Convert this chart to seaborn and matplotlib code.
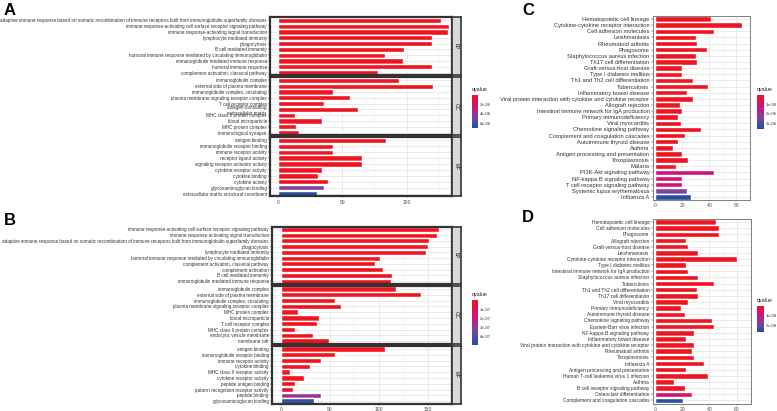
import numpy as np
import pandas as pd
import matplotlib
matplotlib.use('Agg')
import matplotlib.pyplot as plt
import seaborn as sns
from matplotlib.colors import LinearSegmentedColormap, Normalize
from matplotlib.cm import ScalarMappable

W, H = 777, 411

# ---------------- A: GO enrichment ----------------
a_bp_terms = ["adaptive immune response based on somatic recombination of immune receptors built from immunoglobulin superfamily domains",
              "immune response-activating cell surface receptor signaling pathway",
              "immune response-activating signal transduction",
              "lymphocyte mediated immunity",
              "phagocytosis",
              "B cell mediated immunity",
              "humoral immune response mediated by circulating immunoglobulin",
              "immunoglobulin mediated immune response",
              "humoral immune response",
              "complement activation, classical pathway"]
a_bp_count = [127, 133, 132, 120, 120, 98, 83, 97, 120, 78]
a_bp_q = [1e-40, 1e-38, 1e-37, 1e-33, 1e-32, 1e-30, 1e-29, 1e-28, 1e-27, 1e-26]

a_cc_terms = ["immunoglobulin complex", "external side of plasma membrane",
              "immunoglobulin complex, circulating", "plasma membrane signaling receptor complex",
              "T cell receptor complex", "collagen-containing\nextracellular matrix",
              "MHC class II protein complex", "blood microparticle",
              "MHC protein complex", "immunological synapse"]
a_cc_count = [94, 121, 43, 56, 36, 62, 13, 34, 14, 16]
a_cc_q = [1e-30, 1e-29, 1e-25, 1e-20, 1e-15, 1e-12, 1e-11, 1e-10, 1e-10, 1e-09]

a_mf_terms = ["antigen binding", "immunoglobulin receptor binding", "immune receptor activity",
              "receptor ligand activity", "signaling receptor activator activity",
              "cytokine receptor activity", "cytokine binding", "cytokine activity",
              "glycosaminoglycan binding", "extracellular matrix structural constituent"]
a_mf_count = [84, 43, 43, 65, 65, 34, 31, 39, 36, 30]
a_mf_q = [1e-30, 1e-25, 1e-20, 1e-15, 1e-14, 1e-12, 1e-10, 1e-09, 4.6e-06, 6.8e-06]

# ---------------- B: GO enrichment ----------------
b_bp_terms = ["immune response-activating cell surface receptor signaling pathway",
              "immune response-activating signal transduction",
              "adaptive immune response based on somatic recombination of immune receptors built from immunoglobulin superfamily domains",
              "phagocytosis", "lymphocyte mediated immunity",
              "humoral immune response mediated by circulating immunoglobulin",
              "complement activation, classical pathway", "complement activation",
              "B cell mediated immunity", "immunoglobulin mediated immune response"]
b_bp_count = [162, 160, 151, 150, 148, 101, 96, 104, 114, 113]
b_bp_q = [1e-45, 1e-44, 1e-43, 1e-40, 1e-38, 1e-33, 1e-31, 1e-30, 1e-30, 1e-29]

b_cc_terms = ["immunoglobulin complex", "external side of plasma membrane",
              "immunoglobulin complex, circulating", "plasma membrane signaling receptor complex",
              "MHC protein complex", "blood microparticle", "T cell receptor complex",
              "MHC class II protein complex", "endocytic vesicle membrane", "membrane raft"]
b_cc_count = [118, 143, 55, 62, 18, 39, 37, 14, 33, 49]
b_cc_q = [1e-35, 1e-33, 1e-28, 1e-20, 1e-14, 1e-13, 1e-12, 1e-11, 1e-10, 1e-09]

b_mf_terms = ["antigen binding", "immunoglobulin receptor binding", "immune receptor activity",
              "cytokine binding", "MHC class II receptor activity", "cytokine receptor activity",
              "peptide antigen binding", "pattern recognition receptor activity",
              "peptide binding", "glycosaminoglycan binding"]
b_mf_count = [107, 55, 41, 30, 9, 24, 14, 12, 41, 34]
b_mf_q = [1e-33, 1e-26, 1e-18, 1e-13, 1e-12, 1e-11, 1e-10, 1e-09, 2.9e-07, 4.6e-07]

# ---------------- C: KEGG ----------------
c_terms = ["Hematopoietic cell lineage", "Cytokine-cytokine receptor interaction",
           "Cell adhesion molecules", "Leishmaniasis", "Rheumatoid arthritis", "Phagosome",
           "Staphylococcus aureus infection", "Th17 cell differentiation",
           "Graft-versus-host disease", "Type I diabetes mellitus",
           "Th1 and Th2 cell differentiation", "Tuberculosis", "Inflammatory bowel disease",
           "Viral protein interaction with cytokine and cytokine receptor", "Allograft rejection",
           "Intestinal immune network for IgA production", "Primary immunodeficiency",
           "Viral myocarditis", "Chemokine signaling pathway", "Complement and coagulation cascades",
           "Autoimmune thyroid disease", "Asthma", "Antigen processing and presentation",
           "Toxoplasmosis", "Malaria", "PI3K-Akt signaling pathway", "NF-kappa B signaling pathway",
           "T cell receptor signaling pathway", "Systemic lupus erythematosus", "Influenza A"]
c_count = [41, 64, 43, 30, 31, 38, 30, 31, 20, 20, 28, 39, 23, 28, 18,
           20, 17, 19, 34, 22, 17, 13, 20, 24, 15, 43, 20, 20, 23, 26]
c_q = [1e-20, 1e-19, 1e-18, 1e-16, 1e-15, 1e-14, 1e-13, 1e-12, 1e-12, 1e-11,
       1e-11, 1e-10, 1e-10, 1e-10, 1e-09, 1e-09, 1e-09, 1e-09, 1e-08, 1e-08,
       1e-08, 2e-08, 3e-08, 5e-08, 1e-07, 1.3e-06, 1.0e-06, 1.2e-06, 2.4e-06, 3.5e-06]

# ---------------- D: KEGG ----------------
d_terms = ["Hematopoietic cell lineage", "Cell adhesion molecules", "Phagosome",
           "Allograft rejection", "Graft-versus-host disease", "Leishmaniasis",
           "Cytokine-cytokine receptor interaction", "Type I diabetes mellitus",
           "Intestinal immune network for IgA production", "Staphylococcus aureus infection",
           "Tuberculosis", "Th1 and Th2 cell differentiation", "Th17 cell differentiation",
           "Viral myocarditis", "Primary immunodeficiency", "Autoimmune thyroid disease",
           "Chemokine signaling pathway", "Epstein-Barr virus infection",
           "NF-kappa B signaling pathway", "Inflammatory bowel disease",
           "Viral protein interaction with cytokine and cytokine receptor", "Rheumatoid arthritis",
           "Toxoplasmosis", "Influenza A", "Antigen processing and presentation",
           "Human T-cell leukemia virus 1 infection", "Asthma",
           "B cell receptor signaling pathway", "Osteoclast differentiation",
           "Complement and coagulation cascades"]
d_count = [45, 47, 47, 23, 24, 32, 60, 23, 24, 32, 43, 31, 32, 24, 19,
           22, 42, 43, 29, 23, 29, 27, 29, 36, 23, 39, 14, 22, 27, 21]
d_q = [1e-25, 1e-24, 1e-23, 1e-21, 1e-20, 1e-19, 1e-18, 1e-18, 1e-17, 1e-16,
       1e-16, 1e-15, 1e-15, 1e-14, 1e-14, 1e-13, 1e-13, 1e-12, 1e-12, 1e-12,
       1e-11, 1e-11, 1e-11, 1e-10, 1e-10, 1e-10, 1e-10, 1e-09, 8e-09, 2.6e-08]

# red (low q) -> blue (high q), like ggplot low="red", high="blue"
cmap = LinearSegmentedColormap.from_list(
    "qv", [(0, "#EE1420"), (0.35, "#D0137C"), (0.68, "#7C45A0"), (1, "#1E50A2")])

sns.set_style("white")
plt.rcParams['font.family'] = ['Liberation Sans', 'DejaVu Sans']

fig = plt.figure(figsize=(W / 100, H / 100), dpi=100)


def px_axes(x0, y0, x1, y1):
    return fig.add_axes([x0 / W, 1 - y1 / H, (x1 - x0) / W, (y1 - y0) / H])


def bar_panel(ax, terms, counts, qs, norm, xlim, xticks, show_x=True,
              edge='#333333', lw=1.6, fs=3.2):
    df = pd.DataFrame({"Description": terms, "Count": counts, "q": qs})
    pal = {t: cmap(norm(q)) for t, q in zip(terms, qs)}
    sns.barplot(data=df, x="Count", y="Description", hue="Description",
                palette=pal, legend=False, saturation=1, width=0.9, ax=ax,
                orient="h")
    ax.set_xlim(*xlim)
    ax.set_xlabel("")
    ax.set_ylabel("")
    ax.set_xticks(xticks)
    ax.set_xticks([(a + b) / 2 for a, b in zip(xticks[:-1], xticks[1:])] +
                  [xticks[-1] + (xticks[1] - xticks[0]) / 2], minor=True)
    ax.set_axisbelow(True)
    ax.grid(True, which='major', color='#E6E6E6', lw=0.6)
    ax.grid(True, which='minor', axis='x', color='#F2F2F2', lw=0.35)
    ax.tick_params(axis='y', labelsize=fs, length=1.2, width=0.3,
                   colors='#333333', pad=1, left=True)
    ax.tick_params(axis='x', labelsize=3.6, length=1.2, width=0.3,
                   colors='#4D4D4D', pad=1, bottom=show_x, labelbottom=show_x)
    ax.tick_params(which='minor', length=0)
    for s in ax.spines.values():
        s.set_visible(True)
        s.set_color(edge)
        s.set_linewidth(lw)


def legend(x0, y0, x1, y1, norm, ticks):
    cax = px_axes(x0, y0, x1, y1)
    cb = fig.colorbar(ScalarMappable(norm=norm, cmap=cmap), cax=cax)
    cax.invert_yaxis()
    cb.set_ticks(ticks)
    cb.set_ticklabels(["%.0e" % t for t in ticks])
    cb.outline.set_visible(False)
    cax.tick_params(labelsize=3.2, length=1.5, width=0.4, color='white',
                    direction='in', pad=1.5, labelcolor='#333333')
    fig.text(x0 / W, 1 - (y0 - 3) / H, "qvalue", fontsize=3.8,
             ha='left', va='bottom', color='#222222')


def strip(x0, y0, x1, y1, label):
    sax = px_axes(x0, y0, x1, y1)
    sax.set_facecolor('#D9D9D9')
    sax.set_xticks([])
    sax.set_yticks([])
    for s in sax.spines.values():
        s.set_color('#333333')
        s.set_linewidth(1.2)
    sax.text(0.5, 0.5, label, rotation=-90, ha='center', va='center',
             fontsize=3.6, color='#1A1A1A', transform=sax.transAxes)


# ---- Panel A ----
norm_a = Normalize(0, 7e-06)
facets_a = [(a_bp_terms, a_bp_count, a_bp_q, 17.5, 75.5, "BP"),
            (a_cc_terms, a_cc_count, a_cc_q, 77.5, 135.5, "CC"),
            (a_mf_terms, a_mf_count, a_mf_q, 137.5, 196.5, "MF")]
for i, (t, c, q, y0, y1, lab) in enumerate(facets_a):
    ax = px_axes(270, y0, 452, y1)
    bar_panel(ax, t, c, q, norm_a, (-6.5, 135.5), [0, 50, 100],
              show_x=(i == 2), fs=3.3)
    strip(452, y0, 461, y1, lab)
legend(472, 95, 478, 128, norm_a, [2e-06, 4e-06, 6e-06])

# ---- Panel B ----
norm_b = Normalize(0, 5e-07)
facets_b = [(b_bp_terms, b_bp_count, b_bp_q, 226.5, 284, "BP"),
            (b_cc_terms, b_cc_count, b_cc_q, 286, 344, "CC"),
            (b_mf_terms, b_mf_count, b_mf_q, 346, 404, "MF")]
for i, (t, c, q, y0, y1, lab) in enumerate(facets_b):
    ax = px_axes(272, y0, 452, y1)
    bar_panel(ax, t, c, q, norm_b, (-9, 166), [0, 50, 100, 150],
              show_x=(i == 2), fs=3.33)
    strip(452, y0, 461, y1, lab)
legend(472, 300, 478, 345, norm_b, [1e-07, 2e-07, 3e-07, 4e-07])

# ---- Panel C ----
norm_c = Normalize(0, 3.6e-06)
ax = px_axes(652.5, 16, 750, 200)
bar_panel(ax, c_terms, c_count, c_q, norm_c, (-2.2, 66.7), [0, 20, 40, 60],
          edge='#7F7F7F', lw=0.7, fs=4.15)
legend(757, 95, 764, 129, norm_c, [1e-06, 2e-06, 3e-06])

# ---- Panel D ----
norm_d = Normalize(0, 2.7e-08)
ax = px_axes(652.5, 219, 750.5, 403.5)
bar_panel(ax, d_terms, d_count, d_q, norm_d, (-1.6, 62.8), [0, 20, 40, 60],
          edge='#7F7F7F', lw=0.7, fs=3.55)
legend(757, 306, 764, 332, norm_d, [1e-08, 2e-08])

# panel letters
for lab, x, y in [("A", 4, 3), ("B", 4, 213), ("C", 522, 3), ("D", 522, 210)]:
    fig.text(x / W, 1 - y / H, lab, fontsize=12, fontweight='bold',
             ha='left', va='top', color='black')

fig.savefig("out.png", dpi=100)
